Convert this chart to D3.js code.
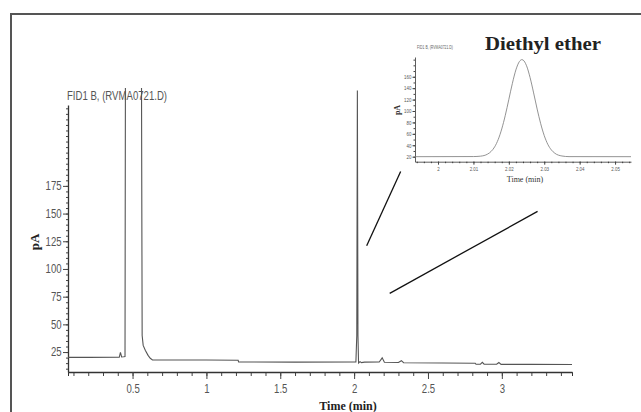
<!DOCTYPE html>
<html>
<head>
<meta charset="utf-8">
<script src="https://cdn.jsdelivr.net/npm/d3@7"></script>
<style>
  html, body { margin: 0; padding: 0; background: #fff; }
  svg { display: block; }
  .tick text { font-family: "Liberation Sans", Arial, sans-serif; fill: #555; }
  .domain { stroke: #333; }
  .tick line { stroke: #444; }
</style>
</head>
<body>
<svg id="chart" width="641" height="412"></svg>
<script>
// FID1 B chromatogram (RVMA0721.D) — retention time (min) vs detector signal (pA)
const mainTimes  = [0.063, 0.20, 0.41, 0.418, 0.426, 0.44, 0.449, 0.452, 0.56, 0.565, 0.572, 0.587, 0.605, 0.62, 0.635,
                    1.0, 1.215, 1.218, 1.6, 2.012, 2.018, 2.022, 2.026, 2.03, 2.04, 2.05, 2.07, 2.17, 2.19, 2.205,
                    2.30, 2.32, 2.335, 2.6, 2.82, 2.825, 2.855, 2.868, 2.88, 2.965, 2.98, 2.995, 3.2, 3.475];
const mainSignal = [20.2, 20.2, 20.3, 24.8, 20.6, 20.8, 21.0, 300, 300, 40.0, 31.0, 26.5, 22.0, 19.4, 17.9,
                    17.8, 17.6, 16.0, 15.9, 16.0, 40.0, 261, 40.0, 15.2, 16.4, 15.5, 15.9, 16.0, 19.8, 15.8,
                    15.6, 17.2, 15.4, 15.1, 14.9, 14.0, 14.1, 15.7, 14.0, 14.0, 15.6, 13.9, 13.9, 13.8];

// Diethyl ether peak, expanded time window
const insetTimes  = [1.9935, 2.010, 2.012, 2.014, 2.015, 2.016, 2.017, 2.018, 2.019, 2.020, 2.021, 2.022, 2.023, 2.0237,
                     2.024, 2.025, 2.026, 2.027, 2.028, 2.029, 2.030, 2.031, 2.032, 2.033, 2.035, 2.037, 2.0545];
const insetSignal = [20.0, 20.2, 20.9, 24.5, 29.2, 37.2, 50.1, 68.6, 92.4, 120.3, 148.4, 172.2, 186.8, 190.0,
                     189.4, 179.3, 158.6, 131.7, 103.3, 77.7, 56.9, 41.7, 31.9, 26.0, 21.2, 20.1, 20.0];

// Axis ticks
const mainXMajor  = [0.5, 1, 1.5, 2, 2.5, 3];
const mainXLabels = ["0.5", "1", "1.5", "2", "2.5", "3"];
const mainYMajor  = [25, 50, 75, 100, 125, 150, 175];
const insetXMajor  = [2, 2.01, 2.02, 2.03, 2.04, 2.05];
const insetXLabels = ["2", "2.01", "2.02", "2.03", "2.04", "2.05"];
const insetYMajor  = [20, 40, 60, 80, 100, 120, 140, 160];

// Zoom guide strokes, in main-chart units (min, pA)
const guideA = [[2.085, 121], [2.315, 188]];
const guideB = [[2.241, 78], [3.242, 152]];

const svg = d3.select("#chart");
const narrow = "scale(0.8,1)";

// outer frame (top and left edges visible)
svg.append("path")
  .attr("d", "M11,412 V14 H641")
  .attr("fill", "none").attr("stroke", "#555").attr("stroke-width", 2);

// ---------- main chromatogram ----------
const x = d3.scaleLinear().domain([0.063, 3.475]).range([68, 572]);
const y = d3.scaleLinear().domain([7, 248]).range([372, 105]);

const range = (a, b, s) => d3.range(Math.round(a / s), Math.round(b / s) + 1).map(i => +(i * s).toFixed(4));

svg.append("g").attr("transform", "translate(0,372)")
  .call(d3.axisBottom(x).tickValues(range(0.1, 3.4, 0.1)).tickSize(4).tickFormat(""))
  .call(g => g.selectAll(".tick line").attr("stroke", "#333"));
svg.append("g").attr("transform", "translate(0,372)")
  .call(d3.axisBottom(x).tickValues(mainXMajor).tickSize(7).tickPadding(5).tickSizeOuter(0)
      .tickFormat((d, i) => mainXLabels[i]))
  .call(g => g.select(".domain").attr("stroke", "#222").attr("stroke-width", 1.3))
  .call(g => g.selectAll(".tick text").attr("font-size", 12).attr("transform", narrow));

svg.append("g").attr("transform", "translate(68,0)")
  .call(d3.axisLeft(y).tickValues(range(10, 245, 5)).tickSize(2).tickFormat(""))
  .call(g => g.select(".domain").remove())
  .call(g => g.selectAll(".tick line").attr("stroke", "#444"));
svg.append("g").attr("transform", "translate(68,0)")
  .call(d3.axisLeft(y).tickValues(mainYMajor).tickSize(5).tickPadding(3).tickSizeOuter(0))
  .call(g => g.select(".domain").attr("stroke", "#222").attr("stroke-width", 1.3))
  .call(g => g.selectAll(".tick text").attr("font-size", 12).attr("transform", narrow));

svg.append("clipPath").attr("id", "mainClip")
  .append("rect").attr("x", 68).attr("y", 88).attr("width", 504).attr("height", 284);

const line = d3.line().x(d => x(d[0])).y(d => y(d[1]));
svg.append("path")
  .datum(d3.zip(mainTimes, mainSignal))
  .attr("clip-path", "url(#mainClip)")
  .attr("d", line)
  .attr("fill", "none").attr("stroke", "#555").attr("stroke-width", 1.1);

svg.append("text").attr("x", 67).attr("y", 100)
  .attr("font-family", "\"Liberation Sans\", Arial, sans-serif")
  .attr("font-size", 12).attr("fill", "#555")
  .attr("textLength", 100).attr("lengthAdjust", "spacingAndGlyphs")
  .text("FID1 B, (RVMA0721.D)");

svg.append("text")
  .attr("transform", "translate(39,242) rotate(-90)")
  .attr("text-anchor", "middle")
  .attr("font-family", "\"Liberation Serif\", serif").attr("font-weight", "bold")
  .attr("font-size", 13).attr("fill", "#222")
  .text("pA");

svg.append("text").attr("x", 348).attr("y", 410)
  .attr("text-anchor", "middle")
  .attr("font-family", "\"Liberation Serif\", serif").attr("font-weight", "bold")
  .attr("font-size", 12).attr("fill", "#222")
  .text("Time (min)");

// zoom guide strokes
[guideA, guideB].forEach(g => {
  svg.append("line")
    .attr("x1", x(g[0][0])).attr("y1", y(g[0][1]))
    .attr("x2", x(g[1][0])).attr("y2", y(g[1][1]))
    .attr("stroke", "#111").attr("stroke-width", 1.3);
});

// ---------- inset: Diethyl ether ----------
const ix = d3.scaleLinear().domain([1.9935, 2.0545]).range([415, 631]);
const iy = d3.scaleLinear().domain([11.2, 194.6]).range([161.7, 57]);

svg.append("g").attr("transform", "translate(0,161.7)")
  .call(d3.axisBottom(ix).tickValues(range(1.994, 2.054, 0.002)).tickSize(1.5).tickFormat(""))
  .call(g => g.select(".domain").remove());
svg.append("g").attr("transform", "translate(0,161.7)")
  .call(d3.axisBottom(ix).tickValues(insetXMajor).tickSize(3).tickPadding(2).tickSizeOuter(0)
      .tickFormat((d, i) => insetXLabels[i]))
  .call(g => g.select(".domain").attr("stroke", "#555").attr("stroke-width", 0.8))
  .call(g => g.selectAll(".tick text").attr("font-size", 5.5).attr("transform", narrow));

svg.append("g").attr("transform", "translate(415,0)")
  .call(d3.axisLeft(iy).tickValues(range(20, 190, 10)).tickSize(1.5).tickFormat(""))
  .call(g => g.select(".domain").remove());
svg.append("g").attr("transform", "translate(415,0)")
  .call(d3.axisLeft(iy).tickValues(insetYMajor).tickSize(2.5).tickPadding(2).tickSizeOuter(0))
  .call(g => g.select(".domain").attr("stroke", "#555").attr("stroke-width", 0.8))
  .call(g => g.selectAll(".tick text").attr("font-size", 5.5).attr("transform", narrow));

svg.append("path")
  .datum(d3.zip(insetTimes, insetSignal))
  .attr("d", d3.line().x(d => ix(d[0])).y(d => iy(d[1])).curve(d3.curveMonotoneX))
  .attr("fill", "none").attr("stroke", "#777").attr("stroke-width", 0.8);

svg.append("text").attr("x", 417).attr("y", 49)
  .attr("font-family", "\"Liberation Sans\", Arial, sans-serif")
  .attr("font-size", 5).attr("fill", "#666")
  .attr("textLength", 36).attr("lengthAdjust", "spacingAndGlyphs")
  .text("FID1 B, (RVMA0721.D)");

svg.append("text").attr("x", 543).attr("y", 50)
  .attr("text-anchor", "middle")
  .attr("font-family", "\"Liberation Serif\", serif").attr("font-weight", "bold")
  .attr("font-size", 19).attr("fill", "#222")
  .attr("textLength", 116).attr("lengthAdjust", "spacingAndGlyphs")
  .text("Diethyl ether");

svg.append("text")
  .attr("transform", "translate(400,110) rotate(-90)")
  .attr("text-anchor", "middle")
  .attr("font-family", "\"Liberation Serif\", serif").attr("font-weight", "bold")
  .attr("font-size", 8).attr("fill", "#333")
  .text("pA");

svg.append("text").attr("x", 525).attr("y", 182)
  .attr("text-anchor", "middle")
  .attr("font-family", "\"Liberation Serif\", serif")
  .attr("font-size", 8).attr("fill", "#333")
  .text("Time (min)");
</script>
</body>
</html>
